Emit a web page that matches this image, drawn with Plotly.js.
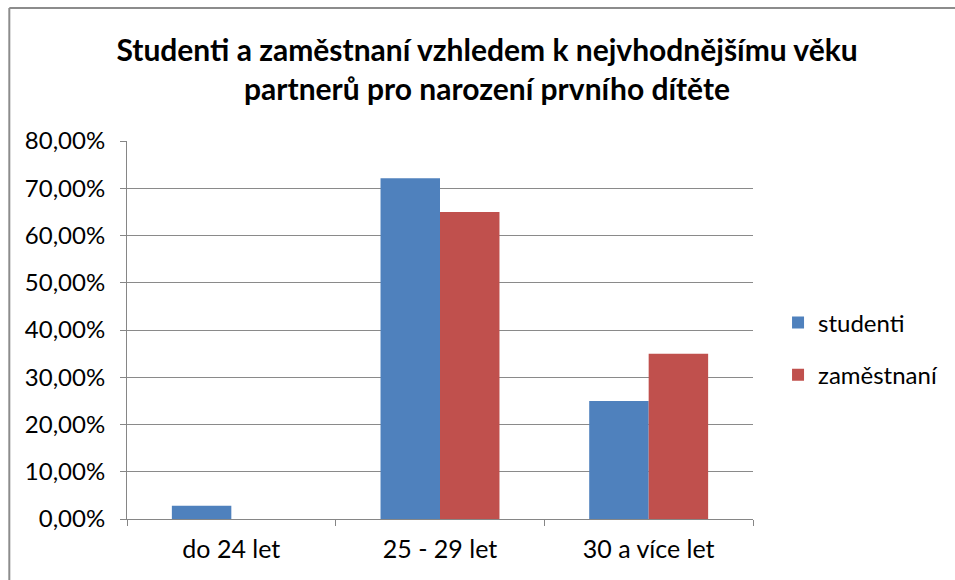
<!DOCTYPE html>
<html>
<head>
<meta charset="utf-8">
<script src="https://cdn.plot.ly/plotly-3.0.1.min.js"></script>
<style>html,body{margin:0;padding:0;background:#fff}#chart{width:955px;height:580px}</style>
</head>
<body>
<div id="chart"></div>
<script>
const categories = ["do 24 let", "25 - 29 let", "30 a více let"];
const seriesNames = ["studenti", "zaměstnaní"];
const studenti = [2.8, 72.1, 25.0];
const zamestnani = [0, 65.0, 35.0];
const yTicks = [0, 10, 20, 30, 40, 50, 60, 70, 80];
const yTickText = yTicks.map(v => v.toFixed(2).replace(".", ",") + "%");

const FONT = "Lato, 'Liberation Sans', sans-serif";

const traces = [
  {type: "bar", name: seriesNames[0], x: categories, y: studenti, legendgroup: "a",
   marker: {color: "#4F81BD"}},
  {type: "bar", name: seriesNames[1], x: categories, y: zamestnani, legendgroup: "b",
   marker: {color: "#C0504D"}}
];

const layout = {
  width: 955, height: 580,
  margin: {l: 127, r: 200, t: 141, b: 61},
  paper_bgcolor: "#fff", plot_bgcolor: "#fff",
  font: {family: FONT, color: "#000", size: 18},
  title: {
    text: "<b>Studenti a zaměstnaní vzhledem k nejvhodnějšímu věku<br>partnerů pro narození prvního dítěte</b>",
    font: {family: FONT, size: 30, color: "#000"},
    x: 0.51, xanchor: "center", y: 0.894, yanchor: "middle"
  },
  barmode: "group", bargap: 0.43, bargroupgap: 0,
  xaxis: {
    type: "category", showgrid: false, showline: true, linecolor: "#868686", linewidth: 1,
    ticks: "outside", tickson: "boundaries", ticklen: 6, tickcolor: "#868686",
    tickfont: {family: FONT, size: 25}, zeroline: false, ticklabelstandoff: 8,
    automargin: false
  },
  yaxis: {
    range: [0, 80], tickmode: "array", tickvals: yTicks, ticktext: yTickText,
    showgrid: true, gridcolor: "#8a8a8a", gridwidth: 1,
    showline: true, linecolor: "#868686", linewidth: 1,
    ticks: "outside", ticklen: 6, tickcolor: "#868686",
    tickfont: {family: FONT, size: 24}, zeroline: false, ticklabelstandoff: 10,
    automargin: false
  },
  legend: {
    x: 1.04, xanchor: "left", y: 0.45, yanchor: "middle",
    font: {family: FONT, size: 24}, tracegroupgap: 18, itemwidth: 30
  },
  showlegend: true,
  shapes: [
    {type: "line", xref: "paper", yref: "paper", x0: -0.188, x1: -0.188, y0: -0.2, y1: 1.352,
     line: {color: "#8c8c8c", width: 2}},
    {type: "line", xref: "paper", yref: "paper", x0: -0.188, x1: 1.4, y0: 1.352, y1: 1.352,
     line: {color: "#8c8c8c", width: 2}}
  ]
};

Plotly.newPlot("chart", traces, layout, {staticPlot: true, displayModeBar: false});
</script>
</body>
</html>
